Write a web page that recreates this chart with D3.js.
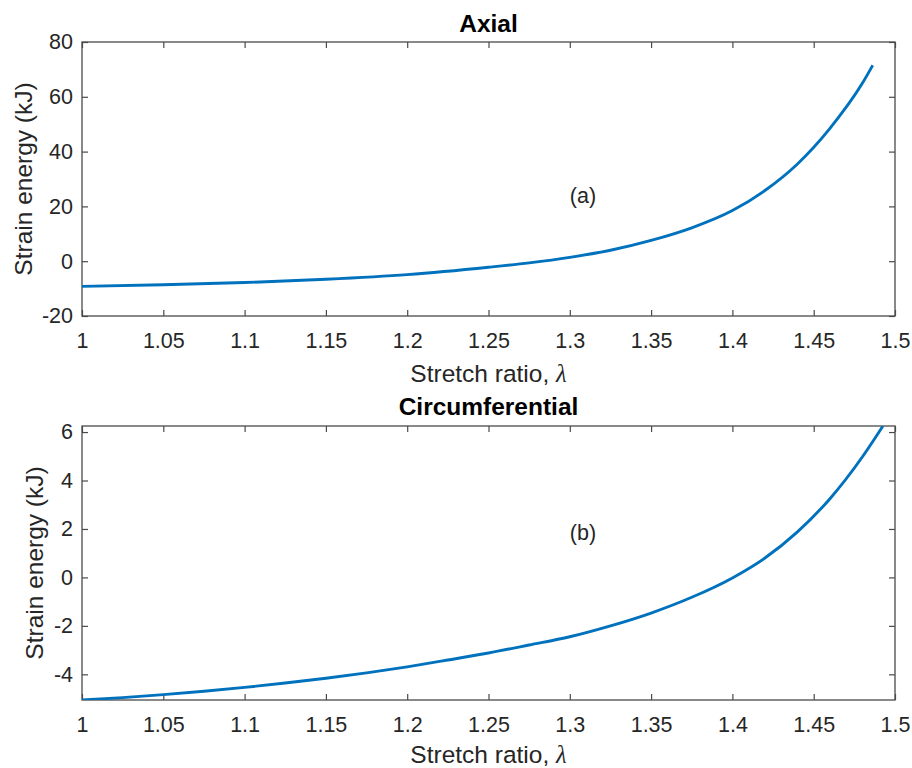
<!DOCTYPE html>
<html>
<head>
<meta charset="utf-8">
<script src="https://cdn.jsdelivr.net/npm/d3@7/dist/d3.min.js"></script>
<style>
  body { margin: 0; background: #ffffff; }
  svg text { font-family: "Liberation Sans", Arial, Helvetica, sans-serif; }
</style>
</head>
<body>
<div id="chart"></div>
<script>
// DATA
const stretchAxial = [1.0, 1.05, 1.1, 1.15, 1.2, 1.25, 1.275, 1.3, 1.325, 1.35, 1.375, 1.4, 1.42, 1.44, 1.46, 1.48, 1.4863];
const energyAxial = [-9.2, -8.6, -7.8, -6.6, -4.9, -2.2, -0.6, 1.4, 4.0, 7.6, 12.2, 18.5, 25.8, 35.5, 48.5, 65.0, 71.5];

const stretchCirc = [1.0, 1.025, 1.05, 1.075, 1.1, 1.125, 1.15, 1.175, 1.2, 1.225, 1.25, 1.275, 1.3, 1.325, 1.35, 1.375, 1.4, 1.42, 1.44, 1.46, 1.48, 1.4926];
const energyCirc = [-5.06, -4.96, -4.84, -4.70, -4.54, -4.36, -4.16, -3.94, -3.69, -3.41, -3.12, -2.79, -2.45, -2.0, -1.47, -0.82, -0.02, 0.8, 1.88, 3.25, 4.98, 6.25];

const xTicks = [1, 1.05, 1.1, 1.15, 1.2, 1.25, 1.3, 1.35, 1.4, 1.45, 1.5];
const yTicksAxial = [-20, 0, 20, 40, 60, 80];
const yTicksCirc = [-4, -2, 0, 2, 4, 6];

const titles = ["Axial", "Circumferential"];
const panelLabels = ["(a)", "(b)"];
const labelPos = [[1.3, 23.9], [1.3, 1.85]];

// LAYOUT
var svgWidth = 912,
  svgHeight = 768;
var lineColor = "#0072BD";
var axisColor = "#262626";

var svg = d3
  .select("#chart")
  .append("svg")
  .attr("width", svgWidth)
  .attr("height", svgHeight);

function drawPanel(cfg) {
  var width = 895 - 82,
    height = cfg.bottom - cfg.top;

  var x = d3.scaleLinear().domain([1, 1.5]).range([0, width]);
  var y = d3.scaleLinear().domain(cfg.yDomain).range([height, 0]);

  var g = svg
    .append("g")
    .attr("transform", `translate(${82}, ${cfg.top})`);

  // CLIP
  g.append("clipPath")
    .attr("id", cfg.id + "-clip")
    .append("rect")
    .attr("width", width)
    .attr("height", height);

  // AXES
  var fmt = function (d) {
    return String(d);
  };

  g.append("g")
    .attr("class", "axis")
    .attr("transform", `translate(0, ${height})`)
    .call(
      d3
        .axisBottom(x)
        .tickValues(xTicks)
        .tickFormat(fmt)
        .tickSizeInner(-6)
        .tickSizeOuter(0)
        .tickPadding(17)
    );

  g.append("g")
    .attr("class", "axis")
    .call(
      d3
        .axisTop(x)
        .tickValues(xTicks)
        .tickFormat("")
        .tickSizeInner(-6)
        .tickSizeOuter(0)
    );

  g.append("g")
    .attr("class", "axis")
    .call(
      d3
        .axisLeft(y)
        .tickValues(cfg.yTicks)
        .tickFormat(fmt)
        .tickSizeInner(-6)
        .tickSizeOuter(0)
        .tickPadding(9)
    );

  g.append("g")
    .attr("class", "axis")
    .attr("transform", `translate(${width}, 0)`)
    .call(
      d3
        .axisRight(y)
        .tickValues(cfg.yTicks)
        .tickFormat("")
        .tickSizeInner(-6)
        .tickSizeOuter(0)
    );

  g.selectAll(".axis .domain").remove();
  g.selectAll(".axis line").attr("stroke", "#4a4a4a").attr("stroke-width", 1.2);
  g.selectAll(".axis text")
    .attr("fill", axisColor)
    .style("font-size", "21.5px");

  // BOX
  g.append("rect")
    .attr("width", width)
    .attr("height", height)
    .attr("fill", "none")
    .attr("stroke", "#4a4a4a")
    .attr("stroke-width", 1.3);

  // CURVE
  var points = cfg.xs.map(function (d, i) {
    return { stretch: d, energy: cfg.ys[i] };
  });

  var line = d3
    .line()
    .x(function (d) {
      return x(d.stretch);
    })
    .y(function (d) {
      return y(d.energy);
    })
    .curve(d3.curveMonotoneX);

  g.append("path")
    .datum(points)
    .attr("d", line)
    .attr("clip-path", `url(#${cfg.id}-clip)`)
    .attr("fill", "none")
    .attr("stroke", lineColor)
    .attr("stroke-width", 2.9)
    .attr("stroke-linejoin", "round");

  // PANEL LABEL
  g.append("text")
    .attr("x", x(cfg.labelAt[0]))
    .attr("y", y(cfg.labelAt[1]))
    .attr("dy", "0.35em")
    .attr("fill", axisColor)
    .style("font-size", "21.5px")
    .text(cfg.label);

  // TITLE
  g.append("text")
    .attr("x", width / 2)
    .attr("y", cfg.titleY - cfg.top)
    .attr("text-anchor", "middle")
    .attr("fill", "#000000")
    .style("font-size", "24.5px")
    .style("font-weight", "bold")
    .text(cfg.title);

  // X LABEL
  var xl = g
    .append("text")
    .attr("x", width / 2)
    .attr("y", cfg.xLabelY - cfg.top)
    .attr("text-anchor", "middle")
    .attr("fill", axisColor)
    .style("font-size", "24.5px");
  xl.append("tspan").text("Stretch ratio, ");
  xl.append("tspan")
    .style("font-family", "'Liberation Serif', 'Times New Roman', serif")
    .style("font-style", "italic")
    .text("λ");

  // Y LABEL
  g.append("text")
    .attr(
      "transform",
      `translate(${cfg.yLabelX - 82}, ${height / 2}) rotate(-90)`
    )
    .attr("text-anchor", "middle")
    .attr("fill", axisColor)
    .style("font-size", "24.5px")
    .text("Strain energy (kJ)");
}

drawPanel({
  id: "axial",
  top: 42,
  bottom: 316,
  yDomain: [-20, 80],
  yTicks: yTicksAxial,
  xs: stretchAxial,
  ys: energyAxial,
  title: titles[0],
  titleY: 31.5,
  xLabelY: 381.5,
  yLabelX: 31.5,
  label: panelLabels[0],
  labelAt: labelPos[0],
});

drawPanel({
  id: "circ",
  top: 426,
  bottom: 700,
  yDomain: d3.extent(energyCirc),
  yTicks: yTicksCirc,
  xs: stretchCirc,
  ys: energyCirc,
  title: titles[1],
  titleY: 415,
  xLabelY: 763,
  yLabelX: 43,
  label: panelLabels[1],
  labelAt: labelPos[1],
});
</script>
</body>
</html>
